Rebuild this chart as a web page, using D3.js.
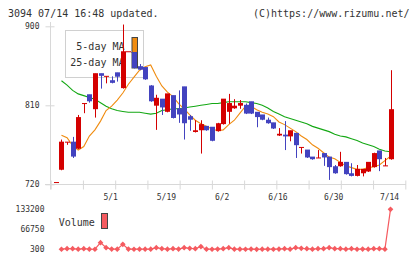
<!DOCTYPE html>
<html>
<head>
<meta charset="utf-8">
<script src="https://cdn.jsdelivr.net/npm/d3@7"></script>
<style>
body { margin: 0; background: #fff; }
svg { display: block; }
</style>
</head>
<body>
<script>
//Grafico de velas 3094 con medias moviles y volumen

//Datos de las velas (indice 0 = 4/16 ... indice 60 = 7/14)
var apertura = [722, 736, 768, 768, 760, 812, 822, 805, 846, 842,
                838, 847, 829, 871, 870, 854, 853, 832, 809, 817,
                802, 821, 806, 831, 797, 779, 781, 786, 785, 780,
                788, 802, 806, 809, 810, 814, 802, 799, 793, 790,
                775, 776, 774, 778, 761, 759, 751, 750, 755, 751,
                740, 740, 745, 732, 729, 732, 734, 739, 758, 741,
                748];
var cierre   = [722, 768, 768, 751, 796, 812, 814, 846, 843, 843,
                835, 842, 871, 871, 852, 850, 839, 814, 818, 807,
                823, 795, 799, 789, 793, 781, 788, 781, 769, 789,
                817, 812, 809, 812, 800, 800, 796, 793, 789, 783,
                777, 774, 781, 764, 762, 750, 748, 750, 750, 739,
                732, 745, 731, 729, 737, 737, 745, 755, 748, 741,
                805];
var maximo   = [722, 771, 768, 774, 799, 812, 822, 846, 846, 843,
                843, 847, 902, 871, 870, 857, 853, 833, 822, 817,
                823, 821, 827, 831, 799, 793, 793, 786, 785, 790,
                817, 823, 817, 816, 812, 814, 802, 799, 796, 790,
                784, 792, 781, 778, 762, 759, 751, 759, 755, 751,
                742, 757, 745, 744, 742, 737, 745, 756, 758, 750,
                850];
var minimo   = [722, 736, 765, 750, 760, 801, 813, 796, 829, 835,
                835, 837, 829, 871, 852, 850, 839, 814, 782, 799,
                802, 795, 790, 771, 781, 779, 755, 781, 769, 780,
                788, 789, 806, 806, 800, 800, 785, 793, 789, 783,
                775, 759, 769, 750, 755, 750, 748, 750, 741, 725,
                732, 740, 731, 729, 729, 729, 734, 739, 735, 741,
                748];

//Medias moviles de 5 y 25 dias
var media5  = [null,
               776, 773, 764, 759, 763, 775, 782, 792, 804, 809,
               816, 824, 834, 842, 850, 854, 856, 843, 832, 825,
               820, 812, 806, 799, 793, 789, 786, 783, 781, 782,
               788, 793, 801, 809, 809, 805, 802, 800, 797, 791,
               788, 784, 780, 775, 771, 765, 761, 756, 751, 749,
               745, 741, 739, 737, 737, 739, 740, 742, 747, 752];
var media25 = [null,
               838, 833, 827, 823, 821, 819, 817, 813, 809, 806,
               804, 803, 802, 802, 802, 801, 800, 801, 804, 805,
               806, 806, 807, 808, 809, 810, 811, 812, 812, 813,
               814, 814, 814, 814, 813, 812, 810, 807, 803, 800,
               797, 795, 793, 791, 789, 786, 784, 782, 780, 777,
               775, 774, 772, 770, 767, 765, 763, 760, 758, 757];

//Volumen
var volumen = [null,
               600, 2500, 2500, 700, 2500, 800, 500, 22400, 5800, 900,
               700, 16900, 900, 600, 800, 700, 800, 5800, 2500, 800,
               2500, 900, 5800, 3600, 2500, 9200, 700, 600, 900, 2500,
               5800, 800, 700, 600, 900, 300, 800, 700, 600, 900,
               2500, 800, 5800, 3600, 2500, 700, 2500, 2500, 5800, 2500,
               2500, 800, 2500, 600, 900, 700, 2500, 2500, 800, 133200];

//Etiquetas de ejes
var fechasIndice = [10, 20, 30, 40, 50, 60];
var fechasTexto  = ["5/1", "5/19", "6/2", "6/16", "6/30", "7/14"];
var preciosTicks = [720, 810, 900];
var volumenTicks = [300, 66750, 133200];

var colorSube  = "#d40000";
var colorBaja  = "#4343bf";
var colorMA5   = "#f08c10";
var colorMA25  = "#14a814";
var colorVol   = "#f55b60";
var fuente     = "DejaVu Sans Mono, monospace";

//Escalas
var xVela   = d3.scaleLinear().domain([0, 60]).range([55.9, 390.5]);
var xMarcas = d3.scaleLinear().domain([0, 11]).range([50.7, 405.3]);
var yPrecio = d3.scaleLinear().domain([720, 900]).range([184.3, 26.3]);
var yVol    = d3.scaleLinear().domain([300, 133200]).range([249.3, 209.3]);

var svgContainer = d3.select("body").append("svg")
                                    .attr("width", 420)
                                    .attr("height", 259);

//Titulo
svgContainer.append("text")
    .attr("x", 8).attr("y", 16.5)
    .style("font-family", fuente).style("font-size", "10px").style("fill", "#333")
    .text("3094 07/14 16:48 updated.");
svgContainer.append("text")
    .attr("x", 409.5).attr("y", 16.5).attr("text-anchor", "end")
    .style("font-family", fuente).style("font-size", "10px").style("fill", "#333")
    .text("(C)https://www.rizumu.net/");

//Ejes del precio
var ejeY = svgContainer.append("g")
    .attr("transform", "translate(50.5,0)")
    .call(d3.axisLeft(yPrecio).tickValues(preciosTicks).tickSize(5).tickPadding(6));
ejeY.select(".domain").remove();
ejeY.selectAll(".tick line").attr("x1", 4).style("stroke", "#d8d8d8");
ejeY.selectAll(".tick text").style("font-family", fuente).style("font-size", "8px").style("fill", "#333");

svgContainer.append("line")
    .attr("x1", 50.5).attr("y1", 22).attr("x2", 50.5).attr("y2", 189.5)
    .style("stroke", "#d8d8d8");
svgContainer.append("line")
    .attr("x1", 45).attr("y1", 184.5).attr("x2", 406).attr("y2", 184.5)
    .style("stroke", "#d8d8d8");

var ejeMarcas = svgContainer.append("g")
    .attr("transform", "translate(0,184.5)")
    .call(d3.axisBottom(xMarcas).tickValues(d3.range(12)).tickSize(5).tickFormat(""));
ejeMarcas.select(".domain").remove();
ejeMarcas.selectAll(".tick line").attr("y1", -4).style("stroke", "#d8d8d8");

var ejeFechas = svgContainer.append("g")
    .attr("transform", "translate(-1.5,190)")
    .call(d3.axisBottom(xVela).tickValues(fechasIndice).tickSize(0).tickPadding(4)
          .tickFormat(function(d, i) { return fechasTexto[i]; }));
ejeFechas.select(".domain").remove();
ejeFechas.selectAll(".tick text").style("font-family", fuente).style("font-size", "8px").style("fill", "#333");

//Leyenda
svgContainer.append("rect")
    .attr("x", 65.5).attr("y", 30.5).attr("width", 78).attr("height", 47)
    .style("fill", "#fff").style("stroke", "#d0d0d0");
svgContainer.append("text")
    .attr("x", 124.5).attr("y", 49.5).attr("text-anchor", "end")
    .style("font-family", fuente).style("font-size", "10px").style("fill", "#333")
    .text("5-day MA");
svgContainer.append("text")
    .attr("x", 124.5).attr("y", 66).attr("text-anchor", "end")
    .style("font-family", fuente).style("font-size", "10px").style("fill", "#333")
    .text("25-day MA");
svgContainer.append("rect")
    .attr("x", 132).attr("y", 37.5).attr("width", 5.5).attr("height", 15)
    .style("fill", colorMA5).style("stroke", "#444");
svgContainer.append("rect")
    .attr("x", 132).attr("y", 52.5).attr("width", 5.5).attr("height", 15.5)
    .style("fill", colorMA25).style("stroke", "#444");

//Medias moviles
var lineaMA = d3.line()
    .defined(function(d) { return d != null; })
    .x(function(d, i) { return xVela(i); })
    .y(function(d) { return yPrecio(d); });

svgContainer.append("path")
    .attr("d", lineaMA(media25))
    .style("fill", "none").style("stroke", colorMA25).style("stroke-width", "1.1");
svgContainer.append("path")
    .attr("d", lineaMA(media5))
    .style("fill", "none").style("stroke", colorMA5).style("stroke-width", "1.1");

//Velas
for (i = 0; i < apertura.length; i++)
{
    var cx    = Math.round(xVela(i));
    var color = cierre[i] >= apertura[i] ? colorSube : colorBaja;

    var mecha = svgContainer.append("line");
    mecha.attr("x1", cx + 0.5);
    mecha.attr("x2", cx + 0.5);
    mecha.attr("y1", yPrecio(maximo[i]));
    mecha.attr("y2", yPrecio(minimo[i]));
    mecha.style("stroke", color);
    mecha.style("stroke-width", "1");

    var yArriba = yPrecio(Math.max(apertura[i], cierre[i]));
    var yAbajo  = yPrecio(Math.min(apertura[i], cierre[i]));

    var cuerpo = svgContainer.append("rect");
    cuerpo.attr("x", cx - 2);
    cuerpo.attr("y", yArriba - 0.5);
    cuerpo.attr("width", 5);
    cuerpo.attr("height", Math.max(1, yAbajo - yArriba));
    cuerpo.style("fill", color);
}

//Volumen
var lineaVol = d3.line()
    .defined(function(d) { return d != null; })
    .x(function(d, i) { return xVela(i); })
    .y(function(d) { return yVol(d); });

svgContainer.append("path")
    .attr("d", lineaVol(volumen))
    .style("fill", "none").style("stroke", colorVol).style("stroke-width", "1.2");

for (j = 1; j < volumen.length; j++)
{
    var punto = svgContainer.append("path");
    punto.attr("d", d3.symbol().type(d3.symbolSquare).size(16)());
    punto.attr("transform", "translate(" + xVela(j) + "," + yVol(volumen[j]) + ") rotate(45)");
    punto.style("fill", colorVol);
}

var ejeVol = svgContainer.append("g")
    .attr("transform", "translate(44.5,0)")
    .call(d3.axisLeft(yVol).tickValues(volumenTicks).tickSize(0).tickPadding(0)
          .tickFormat(d3.format("d")));
ejeVol.select(".domain").remove();
ejeVol.selectAll(".tick text").style("font-family", fuente).style("font-size", "8px").style("fill", "#333");

svgContainer.append("text")
    .attr("x", 58.7).attr("y", 226)
    .style("font-family", fuente).style("font-size", "10px").style("fill", "#333")
    .text("Volume");
svgContainer.append("rect")
    .attr("x", 101.5).attr("y", 213.5).attr("width", 6).attr("height", 15)
    .style("fill", colorVol).style("stroke", "#444");
</script>
</body>
</html>
